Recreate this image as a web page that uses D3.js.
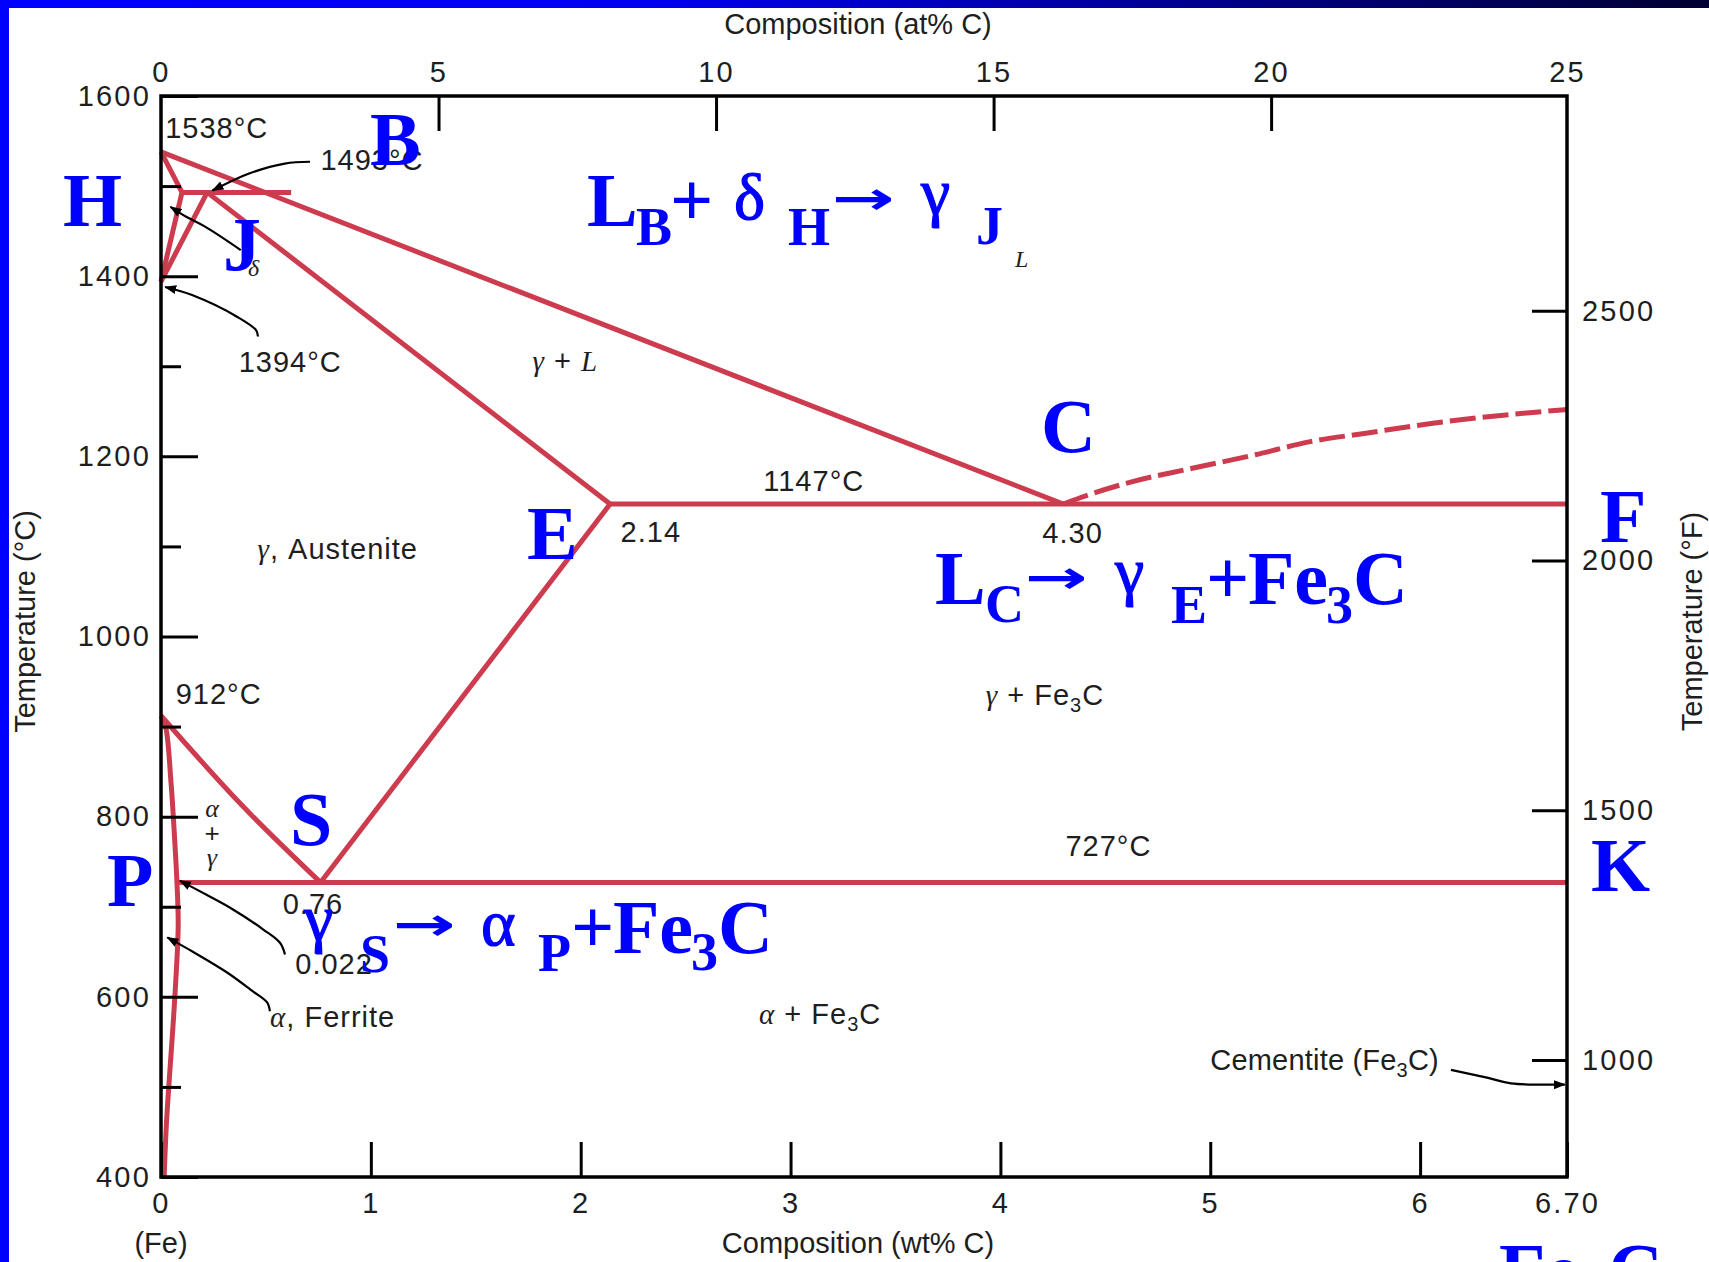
<!DOCTYPE html>
<html>
<head>
<meta charset="utf-8">
<script src="https://cdn.jsdelivr.net/npm/d3@7"></script>
<style>
  html, body { margin: 0; padding: 0; background: #fff; overflow: hidden; }
  svg { display: block; }
</style>
</head>
<body>
<svg id="chart" width="1709" height="1262"></svg>
<script>
// ---- Fe–Fe3C phase diagram: composition in wt% C, temperature in °C ----
const wtExtent = [0, 6.70];
const tempExtent = [400, 1600];
const wtTicks = [0, 1, 2, 3, 4, 5, 6, 6.70];
const atTicks = [0, 5, 10, 15, 20, 25];          // at% C (upper axis)
const atTickMajor = [5, 10, 15, 20];
const atBreaks = [0, 20, 25];                     // at% C ...
const atBreakWt = [0, 5.29, 6.70];                // ... and where they sit on the wt% axis
const tempMajor = [400, 600, 800, 1000, 1200, 1400, 1600];
const tempMinor = [500, 700, 900, 1100, 1300, 1500];
const fahrenheitTicks = [1000, 1500, 2000, 2500];
const fahrenheitExtent = [766, 2930];

// phase boundaries [wt% C, °C]
const liquidus = [[0, 1538], [4.30, 1147]];
const deltaSolidus = [[0, 1538], [0.10, 1493]];
const peritectic = [[0.10, 1493], [0.62, 1493]];
const deltaSolvus = [[0.10, 1493], [0, 1394]];
const gammaDeltaBoundary = [[0.22, 1493], [0, 1394]];
const gammaSolidus = [[0.22, 1493], [2.14, 1147]];
const eutectic = [[2.14, 1147], [6.70, 1147]];
const acmLine = [[2.14, 1147], [0.76, 727]];
const a3Line = [[0, 912], [0.38, 814], [0.76, 727]];
const eutectoid = [[0.08, 727], [6.70, 727]];
const ferriteBoundary = [[0, 912], [0.022, 900], [0.048, 837], [0.068, 763], [0.076, 727], [0.082, 680],
                         [0.07, 616], [0.055, 560], [0.04, 510], [0.026, 460], [0.015, 400]];
const cementiteLiquidus = [[4.30, 1147], [4.38, 1154], [4.63, 1172], [4.92, 1187], [5.22, 1202],
                           [5.47, 1216], [5.75, 1226], [6.07, 1237], [6.41, 1246], [6.70, 1252]];

// leader lines from labels to the points they name
const leader1493 = [[0.71, 1527], [0.59, 1525], [0.42, 1514], [0.245, 1495]];
const leaderDelta = [[0.38, 1429], [0.21, 1455], [0.12, 1466], [0.045, 1477]];
const leader1394 = [[0.462, 1333], [0.453, 1340], [0.362, 1355], [0.148, 1379], [0.02, 1388]];
const leader0022 = [[0.591, 647], [0.567, 660], [0.486, 675], [0.343, 697], [0.219, 713], [0.09, 729]];
const leaderFerrite = [[0.519, 584], [0.505, 594], [0.438, 606], [0.315, 627], [0.152, 650], [0.03, 666]];
const leaderCementite = [[6.147, 519], [6.324, 510], [6.433, 504], [6.69, 502.6]];

// phase / point labels: anchor [wt%, °C], parts [text, style]
const phaseLabels = [
  { at: [0.02, 1553], parts: [['1538°C']] },
  { at: [0.76, 1518], parts: [['1493°C']] },
  { at: [0.37, 1294], parts: [['1394°C']] },
  { at: [0.415, 1400], parts: [['δ', 'gs']] },
  { at: [1.77, 1295], parts: [['γ', 'g'], [' + '], ['L', 'g']] },
  { at: [4.07, 1410], parts: [['L', 'gs']] },
  { at: [0.46, 1086], parts: [['γ', 'g'], [', Austenite']] },
  { at: [2.87, 1161], parts: [['1147°C']] },
  { at: [2.19, 1105], parts: [['2.14']] },
  { at: [4.20, 1104], parts: [['4.30']] },
  { at: [0.07, 925], parts: [['912°C']] },
  { at: [3.93, 924], parts: [['γ', 'g'], [' + Fe'], ['3', 'sub'], ['C', 'up']] },
  { at: [4.31, 756], parts: [['727°C']] },
  { at: [0.58, 692], parts: [['0.76']] },
  { at: [0.64, 625], parts: [['0.022']] },
  { at: [0.52, 567], parts: [['α', 'g'], [', Ferrite']] },
  { at: [2.85, 570], parts: [['α', 'g'], [' + Fe'], ['3', 'sub'], ['C', 'up']] },
  { at: [5.00, 519], parts: [['Cementite (Fe'], ['3', 'sub'], ['C)', 'up']], tight: true }
];
const stackedLabel = [['α', 800, 'g'], ['+', 772, ''], ['γ', 745, 'g']];

// characteristic points of the diagram
const pointLetters = [
  ['H', -0.467, 1456], ['B', 0.996, 1523], ['J', 0.295, 1407], ['C', 4.193, 1205],
  ['E', 1.744, 1086], ['F', 6.857, 1105], ['S', 0.615, 769], ['P', -0.257, 701], ['K', 6.814, 717]
];

// invariant reactions
const reactions = [
  { at: [2.03, 1455.8], pieces: [['L', 'big', 0, 0], ['B', 'sub', 49, 19], ['+', 'big', 83, 0], ['δ', 'greek', 147, -7],
      ['H', 'sub', 201, 19], ['→', 'arrow', 245, -27], ['γ', 'greek', 334, -12], ['J', 'sub', 389, 18]] },
  { at: [3.688, 1036.3], pieces: [['L', 'big', 0, 0], ['C', 'sub', 50, 18], ['→', 'arrow', 90, -26], ['γ', 'greek', 180, -11],
      ['E', 'sub', 236, 19], ['+', 'big', 271, 0], ['Fe', 'big', 313, 0], ['3', 'sub', 391, 19], ['C', 'big', 418, 0]] },
  { at: [0.681, 648.9], pieces: [['γ', 'greek', 0, -13], ['S', 'sub', 56, 19], ['→', 'arrow', 89, -28], ['α', 'greek', 177, -8],
      ['P', 'sub', 234, 18], ['+', 'big', 267, 0], ['Fe', 'big', 309, 0], ['3', 'sub', 387, 17], ['C', 'big', 414, 0]] },
  { at: [6.376, 267.4], pieces: [['Fe', 'big', 0, 0], ['3', 'sub', 81, 19], ['C', 'big', 109, 0]] }
];

// ---- layout ----
const W = 1709, H = 1262;
const margin = { top: 96, right: 142, bottom: 85, left: 161 };
const sans = '"Liberation Sans", Arial, Helvetica, sans-serif';
const serif = '"Liberation Serif", "Times New Roman", serif';
const red = '#cd3c4e';
const blue = '#0000ff';
const ink = '#1e1e1e';

const svg = d3.select('#chart');
const x = d3.scaleLinear().domain(wtExtent).range([margin.left, W - margin.right]);
const y = d3.scaleLinear().domain(tempExtent).range([H - margin.bottom, margin.top]);
const yF = d3.scaleLinear().domain(fahrenheitExtent).range([H - margin.bottom, margin.top]);
const xAt = d3.scaleLinear().domain(atBreaks).range(atBreakWt.map(x));

svg.append('rect').attr('width', W).attr('height', H).attr('fill', '#fff');

const defs = svg.append('defs');
const grad = defs.append('linearGradient').attr('id', 'topBar').attr('x1', '0%').attr('x2', '100%');
[[0, '#0000ff'], [0.38, '#0000f0'], [0.68, '#000095'], [1, '#000030']]
  .forEach(([o, c]) => grad.append('stop').attr('offset', o).attr('stop-color', c));
defs.append('marker').attr('id', 'tip').attr('viewBox', '0 -5 12 10')
  .attr('refX', 11).attr('refY', 0).attr('markerWidth', 12).attr('markerHeight', 10)
  .attr('markerUnits', 'userSpaceOnUse').attr('orient', 'auto')
  .append('path').attr('d', 'M0,-4.5L12,0L0,4.5Z').attr('fill', '#000');

// slide frame
svg.append('rect').attr('width', W).attr('height', 8).attr('fill', 'url(#topBar)');
svg.append('rect').attr('width', 9).attr('height', H).attr('fill', blue);

// ---- phase boundaries ----
const line = d3.line().x(d => x(d[0])).y(d => y(d[1]));
const boundaries = svg.append('g').attr('fill', 'none').attr('stroke', red)
  .attr('stroke-width', 5).attr('stroke-linejoin', 'round');
[liquidus, deltaSolidus, peritectic, deltaSolvus, gammaDeltaBoundary, gammaSolidus, eutectic, acmLine, eutectoid]
  .forEach(d => boundaries.append('path').attr('d', line(d)));
boundaries.append('path').attr('d', line.curve(d3.curveNatural)(a3Line));
boundaries.append('path').attr('d', line.curve(d3.curveCatmullRom)(ferriteBoundary));
boundaries.append('path').attr('d', line.curve(d3.curveMonotoneX)(cementiteLiquidus))
  .attr('stroke-dasharray', '26,7');
line.curve(d3.curveLinear);

// ---- axes ----
const styleAxis = g => {
  g.attr('font-family', sans).attr('font-size', 29);
  g.select('.domain').remove();
  g.selectAll('.tick line').attr('stroke', '#000').attr('stroke-width', 3);
  g.selectAll('.tick text').attr('fill', ink).attr('letter-spacing', 2.2);
};
svg.append('g').attr('transform', `translate(${margin.left},0)`)
  .call(d3.axisLeft(y).tickValues(tempMajor).tickSize(-37).tickPadding(10).tickFormat(d3.format('d')))
  .call(styleAxis);
svg.append('g').attr('transform', `translate(${margin.left},0)`)
  .call(d3.axisLeft(y).tickValues(tempMinor).tickSize(-20).tickFormat(''))
  .call(styleAxis);
svg.append('g').attr('transform', `translate(0,${H - margin.bottom})`)
  .call(d3.axisBottom(x).tickValues(wtTicks).tickSize(-35).tickPadding(15)
    .tickFormat(d => d === 6.70 ? '6.70' : d3.format('d')(d)))
  .call(styleAxis);
svg.append('g').attr('transform', `translate(0,${margin.top})`)
  .call(d3.axisTop(xAt).tickValues(atTicks).tickSize(0).tickPadding(14).tickFormat(d3.format('d')))
  .call(styleAxis);
svg.append('g').attr('transform', `translate(0,${margin.top})`)
  .call(d3.axisTop(xAt).tickValues(atTickMajor).tickSize(-35).tickFormat(''))
  .call(styleAxis);
svg.append('g').attr('transform', `translate(${W - margin.right},0)`)
  .call(d3.axisRight(yF).tickValues(fahrenheitTicks).tickSize(-35).tickPadding(15).tickFormat(d3.format('d')))
  .call(styleAxis);

svg.append('rect')
  .attr('x', x(wtExtent[0])).attr('y', y(tempExtent[1]))
  .attr('width', x(wtExtent[1]) - x(wtExtent[0])).attr('height', y(tempExtent[0]) - y(tempExtent[1]))
  .attr('fill', 'none').attr('stroke', '#000').attr('stroke-width', 3.5);

// axis titles
const titles = svg.append('g').attr('font-family', sans).attr('font-size', 29).attr('fill', ink)
  .attr('text-anchor', 'middle');
const midX = (x(wtExtent[0]) + x(wtExtent[1])) / 2 - 6;
const midY = (y(tempExtent[0]) + y(tempExtent[1])) / 2 - 15;
titles.append('text').attr('x', midX).attr('y', 34).text('Composition (at% C)');
titles.append('text').attr('x', midX).attr('y', 1253).text('Composition (wt% C)');
titles.append('text').attr('x', x(0)).attr('y', 1253).text('(Fe)');
titles.append('text').attr('transform', `translate(35,${midY}) rotate(-90)`).text('Temperature (°C)');
titles.append('text').attr('transform', `translate(1702,${midY}) rotate(-90)`).text('Temperature (°F)');

// ---- phase labels ----
const labels = svg.append('g').attr('font-family', sans).attr('font-size', 29).attr('fill', ink);
phaseLabels.forEach(l => {
  const t = labels.append('text').attr('x', x(l.at[0])).attr('y', y(l.at[1]))
    .attr('letter-spacing', l.tight ? 0.2 : 1);
  l.parts.forEach(([txt, s]) => {
    const sp = t.append('tspan').text(txt);
    if (s === 'g') sp.attr('font-family', serif).attr('font-style', 'italic');
    if (s === 'gs') sp.attr('font-family', serif).attr('font-style', 'italic').attr('font-size', 24);
    if (s === 'sub') sp.attr('font-size', 20).attr('dy', 7);
    if (s === 'up') sp.attr('dy', -7);
  });
});
stackedLabel.forEach(([txt, t, s]) => {
  const el = labels.append('text').attr('x', x(0.243)).attr('y', y(t))
    .attr('text-anchor', 'middle').attr('font-size', 26).text(txt);
  if (s === 'g') el.attr('font-family', serif).attr('font-style', 'italic');
});

// leaders
const leaders = svg.append('g').attr('fill', 'none').attr('stroke', '#000').attr('stroke-width', 2.2);
const leaderLine = d3.line().x(d => x(d[0])).y(d => y(d[1])).curve(d3.curveCatmullRom);
[leader1493, leaderDelta, leader1394, leader0022, leaderFerrite, leaderCementite]
  .forEach(d => leaders.append('path').attr('d', leaderLine(d)).attr('marker-end', 'url(#tip)'));

// ---- point letters and reactions ----
const notes = svg.append('g').attr('fill', blue).attr('font-family', serif).attr('font-weight', 'bold');
pointLetters.forEach(([txt, w, t]) => {
  notes.append('text').attr('x', x(w)).attr('y', y(t)).attr('font-size', 76).text(txt);
});
reactions.forEach(r => {
  const x0 = x(r.at[0]), y0 = y(r.at[1]);
  r.pieces.forEach(([txt, kind, dx, dy]) => {
    const el = notes.append('text').attr('x', x0 + dx).attr('y', y0 + dy).text(txt);
    if (kind === 'big') el.attr('font-size', 76);
    if (kind === 'sub') el.attr('font-size', 54);
    if (kind === 'greek') el.attr('font-size', 66).attr('font-weight', 'normal')
      .attr('stroke', blue).attr('stroke-width', 1.2);
    if (kind === 'arrow') {
      el.attr('font-family', '"DejaVu Sans", sans-serif').attr('font-size', 46)
        .attr('y', y0 + dy + 15).attr('textLength', 63).attr('lengthAdjust', 'spacingAndGlyphs');
    }
  });
});
</script>
</body>
</html>
